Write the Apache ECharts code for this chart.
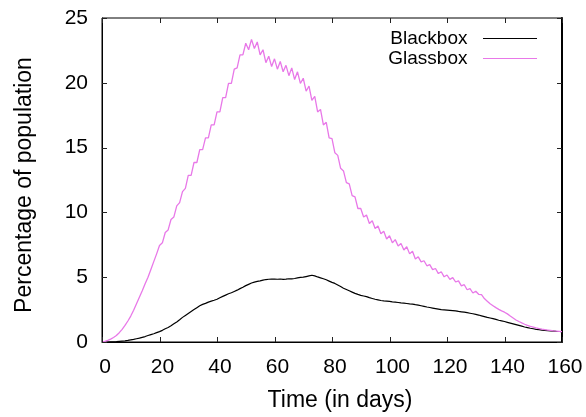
<!DOCTYPE html>
<html>
<head>
<meta charset="utf-8">
<script src="https://cdn.jsdelivr.net/npm/echarts@6/dist/echarts.min.js"></script>
<style>html,body{margin:0;padding:0;background:#fff}#c{width:586px;height:417px}</style>
</head>
<body>
<div id="c"></div>
<script>
// Days 0..160, one value per day
const days = Array.from({length: 161}, (_, i) => i);
const blackbox = [
0,0,0,0.01,0.02,0.03,0.05,0.07,0.09,0.12,
0.16,0.2,0.25,0.3,0.36,0.42,0.5,0.57,0.64,0.72,
0.8,0.9,1.02,1.12,1.25,1.4,1.55,1.72,1.9,2.05,
2.2,2.35,2.5,2.65,2.8,2.9,2.98,3.08,3.15,3.22,
3.3,3.42,3.52,3.62,3.72,3.8,3.9,4.0,4.12,4.22,
4.35,4.45,4.55,4.62,4.68,4.72,4.78,4.82,4.84,4.86,
4.85,4.84,4.86,4.83,4.85,4.88,4.87,4.9,4.95,4.98,
5.0,5.05,5.1,5.15,5.1,5.02,4.95,4.88,4.8,4.7,
4.6,4.52,4.4,4.28,4.15,4.05,3.95,3.85,3.75,3.67,
3.6,3.55,3.5,3.42,3.36,3.3,3.25,3.2,3.17,3.15,
3.13,3.1,3.08,3.05,3.02,3.0,2.97,2.94,2.92,2.88,
2.85,2.8,2.75,2.7,2.66,2.62,2.58,2.54,2.5,2.48,
2.46,2.44,2.42,2.4,2.36,2.33,2.3,2.26,2.22,2.18,
2.13,2.08,2.02,1.96,1.9,1.85,1.8,1.74,1.68,1.63,
1.58,1.52,1.46,1.4,1.34,1.28,1.22,1.16,1.11,1.06,
1.02,0.98,0.95,0.92,0.9,0.88,0.86,0.84,0.82,0.81,
0.8
];
const glassbox = [
0,0.05,0.12,0.22,0.35,0.5,0.72,0.98,1.28,1.62,
2.0,2.45,2.95,3.45,3.95,4.5,5.0,5.6,6.2,6.8,
7.45,7.65,8.45,8.65,9.45,9.65,10.5,10.75,11.6,11.85,
12.85,12.85,13.85,13.85,14.85,14.85,15.75,15.75,16.75,16.75,
17.75,17.75,18.85,18.85,19.95,19.95,21.05,21.15,22.15,22.15,
23.05,22.55,23.35,22.65,23.15,22.15,22.55,21.55,22.05,21.25,
21.85,21.05,21.65,20.85,21.35,20.55,21.15,20.25,20.85,19.95,
20.35,19.35,19.75,18.65,18.95,17.75,17.95,16.75,16.95,15.75,
15.7,14.6,14.4,13.4,13.2,12.3,12.2,11.3,11.2,10.3,
10.3,9.65,9.8,9.15,9.35,8.75,8.95,8.35,8.55,7.95,
8.2,7.65,7.9,7.4,7.6,7.1,7.35,6.8,7.0,6.4,
6.57,6.18,6.27,5.88,5.97,5.58,5.67,5.28,5.42,5.03,
5.17,4.83,4.97,4.63,4.72,4.33,4.42,4.03,4.12,3.78,
3.92,3.68,3.65,3.35,3.15,2.95,2.8,2.65,2.52,2.4,
2.3,2.17,2.0,1.85,1.7,1.58,1.47,1.37,1.28,1.21,
1.15,1.09,1.04,0.99,0.95,0.92,0.89,0.86,0.84,0.82,
0.8
];
const seriesNames = ['Blackbox', 'Glassbox'];
const xTicks = [0, 20, 40, 60, 80, 100, 120, 140, 160];
const yTicks = [0, 5, 10, 15, 20, 25];

const FONT = 'Liberation Sans, Arial, Helvetica, sans-serif';
const X_MIN = xTicks[0], X_MAX = xTicks[xTicks.length - 1];
const Y_MIN = yTicks[0], Y_MAX = yTicks[yTicks.length - 1];
const TICK_LEN = 5;
const tickLineStyle = {stroke: '#222', lineWidth: 1};

const chart = echarts.init(document.getElementById('c'), null, {renderer: 'canvas'});
const axisLineStyle = {show: true, onZero: false, lineStyle: {color: '#000', width: 1}};
chart.setOption({
  animation: false,
  backgroundColor: '#fff',
  grid: {left: 102, top: 18, width: 460, height: 324, show: true, borderColor: '#000', borderWidth: 1, backgroundColor: 'transparent'},
  legend: {
    show: true,
    data: seriesNames,
    orient: 'vertical',
    left: 'auto',
    right: 44,
    top: 24,
    bottom: 'auto',
    align: 'right',
    icon: 'rect',
    itemWidth: 54,
    itemHeight: 1.2,
    itemGap: 1,
    formatter: function (n) { return n + '  '; },
    textStyle: {fontFamily: FONT, fontSize: 19, color: '#000'}
  },
  xAxis: [{
    type: 'value', min: X_MIN, max: X_MAX, interval: 20,
    name: 'Time (in days)', nameLocation: 'middle', nameGap: 47,
    nameTextStyle: {fontFamily: FONT, fontSize: 23, color: '#000', padding: [0, 0, 0, 16]},
    axisLine: axisLineStyle, axisTick: {show: false}, splitLine: {show: false},
    axisLabel: {fontFamily: FONT, fontSize: 21, color: '#000', margin: 15, padding: [0, 0, 0, 6]}
  }],
  yAxis: [{
    type: 'value', min: Y_MIN, max: Y_MAX, interval: 5,
    name: 'Percentage of population', nameLocation: 'middle', nameGap: 66, nameRotate: 90,
    nameTextStyle: {fontFamily: FONT, fontSize: 23, color: '#000', padding: [0, 10, 0, 0]},
    axisLine: axisLineStyle, axisTick: {show: false}, splitLine: {show: false},
    axisLabel: {fontFamily: FONT, fontSize: 21, color: '#000', margin: 14}
  }, {
    type: 'value', position: 'right', min: Y_MIN, max: Y_MAX, interval: 5,
    axisLine: {show: true, onZero: false, lineStyle: {color: '#000', width: 2}}, axisTick: {show: false}, splitLine: {show: false}, axisLabel: {show: false}
  }],
  series: [{
    name: seriesNames[0], type: 'line', symbol: 'none',
    data: days.map((d, i) => [d, blackbox[i]]),
    lineStyle: {color: '#000', width: 1.2}, itemStyle: {color: '#000'}
  }, {
    name: seriesNames[1], type: 'line', symbol: 'none',
    data: days.map((d, i) => [d, glassbox[i]]),
    lineStyle: {color: '#e878e8', width: 1.3}, itemStyle: {color: '#e878e8'}
  }, {
    // inward tick marks on bottom and top (gnuplot mirror ticks)
    name: 'xticks', type: 'custom', silent: true, z: 5,
    data: xTicks.map(v => [v, Y_MIN]),
    encode: {x: 0, y: 1},
    renderItem: function (params, api) {
      const v = api.value(0);
      const b = api.coord([v, Y_MIN]);
      const t = api.coord([v, Y_MAX]);
      const x = Math.round(b[0]) + 0.5;
      return {type: 'group', children: [
        {type: 'line', shape: {x1: x, y1: b[1], x2: x, y2: b[1] - TICK_LEN}, style: tickLineStyle},
        {type: 'line', shape: {x1: x, y1: t[1], x2: x, y2: t[1] + TICK_LEN}, style: tickLineStyle}
      ]};
    }
  }, {
    // inward tick marks on left and right
    name: 'yticks', type: 'custom', silent: true, z: 5,
    data: yTicks.map(v => [X_MIN, v]),
    encode: {x: 0, y: 1},
    renderItem: function (params, api) {
      const v = api.value(1);
      const l = api.coord([X_MIN, v]);
      const r = api.coord([X_MAX, v]);
      const y = Math.round(l[1]) + 0.5;
      return {type: 'group', children: [
        {type: 'line', shape: {x1: l[0], y1: y, x2: l[0] + TICK_LEN, y2: y}, style: tickLineStyle},
        {type: 'line', shape: {x1: r[0], y1: y, x2: r[0] - TICK_LEN, y2: y}, style: tickLineStyle}
      ]};
    }
  }]
});
</script>
</body>
</html>
